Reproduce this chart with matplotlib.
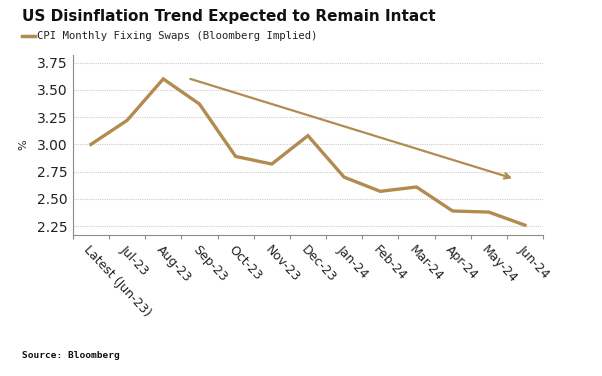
import matplotlib.pyplot as plt

# data
months = ["Latest (Jun-23)", "Jul-23", "Aug-23", "Sep-23", "Oct-23", "Nov-23",
          "Dec-23", "Jan-24", "Feb-24", "Mar-24", "Apr-24", "May-24", "Jun-24"]
cpi_swaps = [3.00, 3.22, 3.60, 3.37, 2.89, 2.82, 3.08, 2.70, 2.57, 2.61, 2.39, 2.38, 2.26]
y_ticks = [2.25, 2.50, 2.75, 3.00, 3.25, 3.50, 3.75]

# trend arrow (data coords)
trend_start = (2.75, 3.60)
trend_end = (11.65, 2.69)

LINE_COLOR = "#B38A4F"
GRID_COLOR = "#CCCCCC"
SPINE_COLOR = "#8C8C8C"

fig = plt.figure(figsize=(6.02, 3.76), dpi=100)
ax = fig.add_axes([0.121, 0.375, 0.781, 0.479])

x = list(range(len(months)))
ax.plot(x, cpi_swaps, color=LINE_COLOR, lw=2.4, solid_joinstyle="miter")

ax.annotate("", xy=trend_end, xytext=trend_start,
            arrowprops=dict(arrowstyle="->", color=LINE_COLOR, lw=1.6,
                            mutation_scale=10, shrinkA=0, shrinkB=0))

ax.set_xlim(-0.5, len(months) - 0.5)
ax.set_ylim(2.17, 3.82)
ax.set_yticks(y_ticks)
ax.set_yticklabels([f"{v:.2f}" for v in y_ticks], fontsize=10, color="#222222")
ax.yaxis.grid(True, color=GRID_COLOR, linestyle=(0, (1, 1)), lw=0.8)
ax.set_axisbelow(True)

# x ticks at the boundaries, labels at the centres
ax.set_xticks([i - 0.5 for i in range(len(months) + 1)])
ax.set_xticklabels([])
ax.set_xticks(x, minor=True)
ax.set_xticklabels(months, minor=True, rotation=-47, ha="left", va="top",
                   rotation_mode="anchor", fontsize=9, color="#222222")
ax.tick_params(axis="x", which="major", length=3, color=SPINE_COLOR)
ax.tick_params(axis="x", which="minor", length=0, pad=6)
ax.tick_params(axis="y", length=0, pad=4)

for side in ["top", "right"]:
    ax.spines[side].set_visible(False)
for side in ["left", "bottom"]:
    ax.spines[side].set_color(SPINE_COLOR)
    ax.spines[side].set_linewidth(0.8)

ax.set_ylabel("%", fontsize=8, rotation=90, labelpad=2, color="#222222")
ax.yaxis.set_label_coords(-0.095, (3.00 - 2.17) / (3.82 - 2.17))

fig.text(0.036, 0.955, "US Disinflation Trend Expected to Remain Intact",
         fontsize=11, fontweight="bold", va="center", color="#111111")
fig.add_artist(plt.Line2D([0.037, 0.058], [0.905, 0.905], color=LINE_COLOR, lw=2.5))
fig.text(0.061, 0.905, "CPI Monthly Fixing Swaps (Bloomberg Implied)",
         fontsize=7.7, family="DejaVu Sans Mono", va="center", color="#222222")
fig.text(0.036, 0.055, "Source: Bloomberg", fontsize=6.8, fontweight="bold",
         family="DejaVu Sans Mono", va="center", color="#111111")

fig.savefig("out.png", dpi=100)
